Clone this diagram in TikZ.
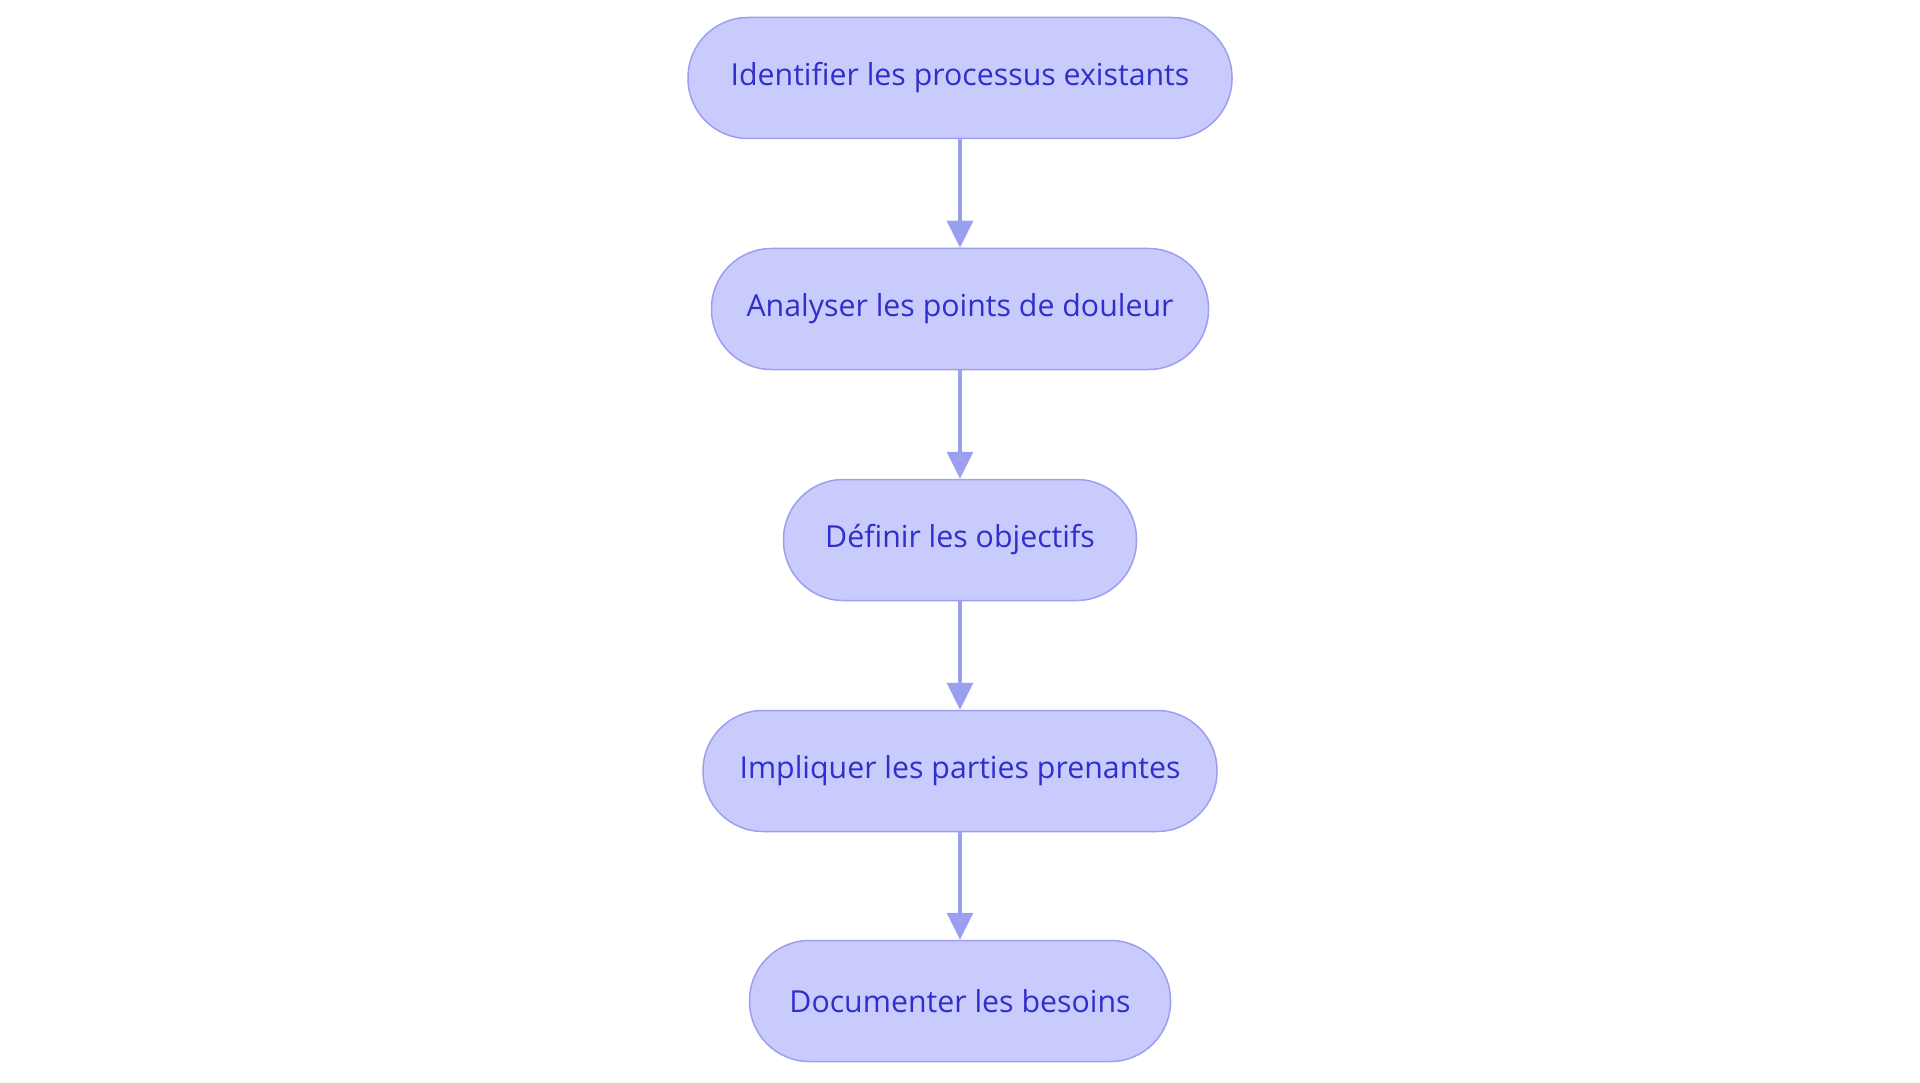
\documentclass[tikz,border=0pt]{standalone}
\usepackage{fontspec}
\setmainfont{Open Sans}
\usetikzlibrary{arrows.meta}
\definecolor{nodefill}{HTML}{CACBFD}
\definecolor{nodeline}{HTML}{9A9FEF}
\definecolor{nodetext}{HTML}{2F2FCB}
\begin{document}
\begin{tikzpicture}[x=1pt,y=1pt,
  stepbox/.style={draw=nodeline,line width=1.5pt,fill=nodefill,rounded corners=60pt,
    minimum height=121pt,inner sep=0pt,text=nodetext,font=\fontsize{30.3}{36}\selectfont},
  flow/.style={draw=nodeline,line width=3.5pt,-{Triangle[length=27pt,width=26pt]}}]
\useasboundingbox (0,0) rectangle (1920,-1083);
\node[stepbox,minimum width=544pt] (n1) at (960,-78) {Identifier les processus existants};
\node[stepbox,minimum width=497pt] (n2) at (960,-309) {Analyser les points de douleur};
\node[stepbox,minimum width=353pt] (n3) at (960,-540) {Définir les objectifs};
\node[stepbox,minimum width=514pt] (n4) at (960,-771) {Impliquer les parties prenantes};
\node[stepbox,minimum width=421pt] (n5) at (960,-1001) {Documenter les besoins};
\draw[flow] (n1) -- (n2);
\draw[flow] (n2) -- (n3);
\draw[flow] (n3) -- (n4);
\draw[flow] (n4) -- (n5);
\end{tikzpicture}
\end{document}
